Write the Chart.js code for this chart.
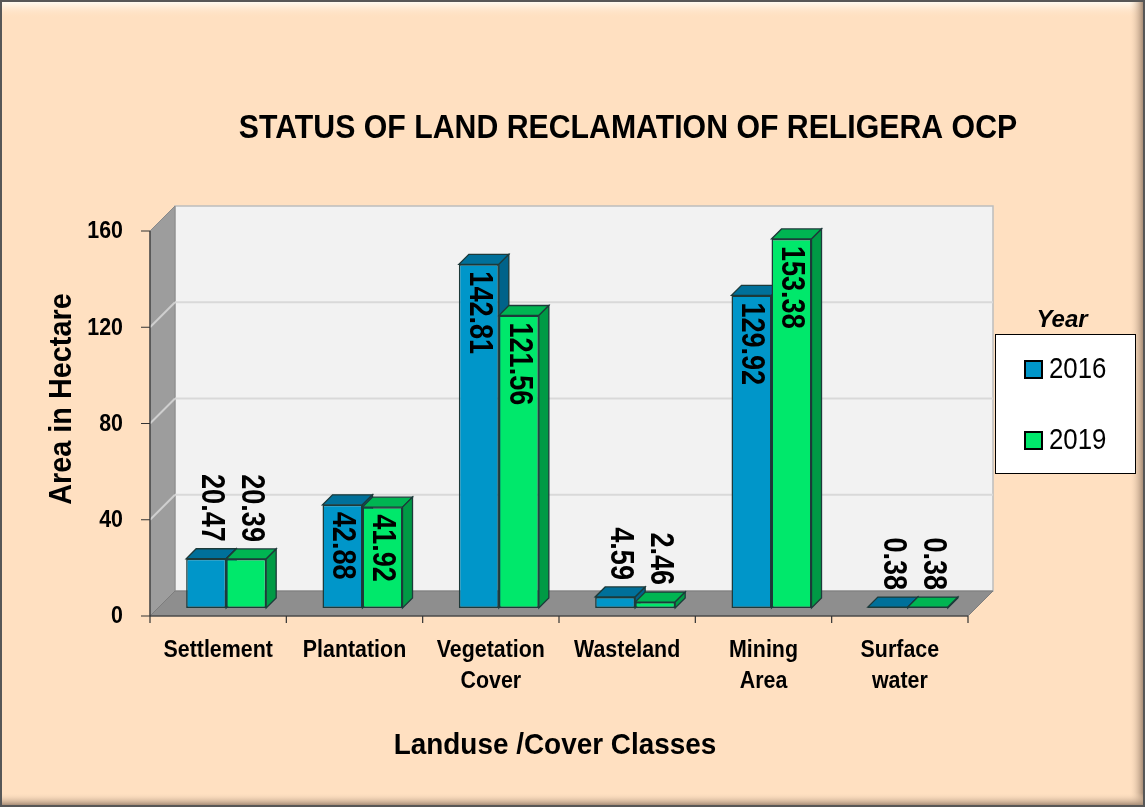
<!DOCTYPE html>
<html>
<head>
<meta charset="utf-8">
<title>Status of Land Reclamation of Religera OCP</title>
<script src="https://cdn.jsdelivr.net/npm/chart.js@4.4.1/dist/chart.umd.min.js"></script>
<style>
  html, body { margin: 0; padding: 0; background: #ffe0c1; }
  canvas { display: block; }
</style>
</head>
<body>
<canvas id="landChart" width="1145" height="807"></canvas>
<script>
const categories = ['Settlement', 'Plantation', ['Vegetation', 'Cover'], 'Wasteland', ['Mining', 'Area'], ['Surface', 'water']];
const years = ['2016', '2019'];
const area2016 = [20.47, 42.88, 142.81, 4.59, 129.92, 0.38];
const area2019 = [20.39, 41.92, 121.56, 2.46, 153.38, 0.38];
const yTicks = [0, 40, 80, 120, 160];

const FONT = '"Liberation Sans", Arial, sans-serif';
const DEPTH = 25;      // depth of the 3D box (walls / floor)
const BAR_DEPTH = 10;  // depth of each bar
const BAR_SHIFT = 8;   // bars sit a bit behind the front edge

const barColors = [
    { front: '#0096c9', top: '#00709a', side: '#00638a' },
    { front: '#00e86b', top: '#00b552', side: '#009a45' }
];

function drawText(ctx, str, x, y, size, opts = {}) {
    ctx.save();
    ctx.translate(x, y);
    if (opts.rotate) ctx.rotate(opts.rotate);
    ctx.scale(opts.sx || 1, 1);
    ctx.font = (opts.style || 'bold') + ' ' + size + 'px ' + FONT;
    ctx.fillStyle = opts.color || '#000';
    ctx.textAlign = opts.align || 'center';
    ctx.textBaseline = opts.baseline || 'alphabetic';
    ctx.fillText(str, 0, 0);
    ctx.restore();
}

function poly(ctx, pts, fill, stroke, lw) {
    ctx.beginPath();
    ctx.moveTo(pts[0][0], pts[0][1]);
    for (let i = 1; i < pts.length; i++) ctx.lineTo(pts[i][0], pts[i][1]);
    ctx.closePath();
    if (fill) { ctx.fillStyle = fill; ctx.fill(); }
    if (stroke) { ctx.strokeStyle = stroke; ctx.lineWidth = lw || 1; ctx.stroke(); }
}

// frame, walls, floor, axes and all the text around the plot
const boxPlugin = {
    id: 'box3d',
    beforeDraw(chart) {
        const { ctx, chartArea: a, scales } = chart;
        const W = chart.width, H = chart.height;
        const yS = scales.y, xS = scales.x;

        // background with a soft bevel
        ctx.save();
        ctx.fillStyle = '#ffe0c1';
        ctx.fillRect(0, 0, W, H);
        let g = ctx.createLinearGradient(0, 2, 0, 18);
        g.addColorStop(0, '#fffaf0');
        g.addColorStop(1, 'rgba(255,224,193,0)');
        ctx.fillStyle = g;
        ctx.fillRect(2, 2, W - 4, 16);
        g = ctx.createLinearGradient(W - 16, 0, W - 2, 0);
        g.addColorStop(0, 'rgba(255,224,193,0)');
        g.addColorStop(1, '#a88e78');
        ctx.fillStyle = g;
        ctx.fillRect(W - 16, 2, 14, H - 4);
        g = ctx.createLinearGradient(0, H - 14, 0, H - 2);
        g.addColorStop(0, 'rgba(255,224,193,0)');
        g.addColorStop(1, '#a88e78');
        ctx.fillStyle = g;
        ctx.fillRect(2, H - 14, W - 4, 12);
        ctx.strokeStyle = '#575757';
        ctx.lineWidth = 2;
        ctx.strokeRect(1, 1, W - 2, H - 2);

        const x0 = a.left, x1 = a.right;
        const yTop = yS.getPixelForValue(160), yBot = yS.getPixelForValue(0);

        // back wall
        poly(ctx, [[x0 + DEPTH, yTop - DEPTH], [x1 + DEPTH, yTop - DEPTH], [x1 + DEPTH, yBot - DEPTH], [x0 + DEPTH, yBot - DEPTH]], '#f2f2f2', '#bdbdbd', 1.5);
        // left wall
        poly(ctx, [[x0, yTop], [x0 + DEPTH, yTop - DEPTH], [x0 + DEPTH, yBot - DEPTH], [x0, yBot]], '#9d9d9d', '#8a8a8a', 1);
        // floor
        poly(ctx, [[x0, yBot], [x0 + DEPTH, yBot - DEPTH], [x1 + DEPTH, yBot - DEPTH], [x1, yBot]], '#8e8e8e', '#7d7d7d', 1);

        // gridlines
        yTicks.forEach(v => {
            if (v === 0 || v === 160) return;
            const py = yS.getPixelForValue(v);
            ctx.strokeStyle = '#d9d9d9';
            ctx.lineWidth = 2;
            ctx.beginPath();
            ctx.moveTo(x0 + DEPTH, py - DEPTH);
            ctx.lineTo(x1 + DEPTH, py - DEPTH);
            ctx.stroke();
            ctx.strokeStyle = '#cfcfcf';
            ctx.beginPath();
            ctx.moveTo(x0, py);
            ctx.lineTo(x0 + DEPTH, py - DEPTH);
            ctx.stroke();
        });

        // axis lines and ticks
        ctx.strokeStyle = '#333';
        ctx.lineWidth = 1.2;
        ctx.beginPath();
        ctx.moveTo(x0, yTop);
        ctx.lineTo(x0, yBot);
        ctx.lineTo(x1, yBot);
        yTicks.forEach(v => {
            const py = yS.getPixelForValue(v);
            ctx.moveTo(x0 - 9, py);
            ctx.lineTo(x0, py);
        });
        const step = (x1 - x0) / categories.length;
        for (let i = 0; i <= categories.length; i++) {
            ctx.moveTo(x0 + i * step, yBot);
            ctx.lineTo(x0 + i * step, yBot + 7);
        }
        ctx.stroke();

        // tick labels
        yTicks.forEach(v => {
            drawText(ctx, String(v), x0 - 27, yS.getPixelForValue(v) + 1, 23, { align: 'right', baseline: 'middle', sx: 0.93 });
        });
        categories.forEach((c, i) => {
            const lines = Array.isArray(c) ? c : [c];
            const px = xS.getPixelForValue(i);
            lines.forEach((l, k) => drawText(ctx, l, px, yBot + 41 + k * 31, 23, { sx: 0.93 }));
        });

        // titles
        drawText(ctx, 'STATUS OF LAND RECLAMATION OF RELIGERA OCP', 628, 138, 34, { sx: 0.89 });
        drawText(ctx, 'Area in Hectare', 71, 399, 31, { rotate: -Math.PI / 2, sx: 0.93 });
        drawText(ctx, 'Landuse /Cover Classes', 555, 754, 30, { sx: 0.93 });

        // legend
        drawText(ctx, 'Year', 1062, 327, 24, { style: 'italic bold' });
        ctx.fillStyle = '#ffffff';
        ctx.fillRect(995, 334, 140, 139);
        ctx.strokeStyle = '#000';
        ctx.lineWidth = 1;
        ctx.strokeRect(995.5, 334.5, 140, 139);
        years.forEach((yr, k) => {
            const cy = 369 + k * 71;
            ctx.fillStyle = barColors[k].front;
            ctx.fillRect(1025, cy - 8, 17, 17);
            ctx.strokeStyle = '#000';
            ctx.lineWidth = 2;
            ctx.strokeRect(1025, cy - 8, 17, 17);
            drawText(ctx, yr, 1049, cy + 1, 30, { style: 'normal', align: 'left', baseline: 'middle', sx: 0.86 });
        });
        ctx.restore();
    }
};

// top and side faces of the bars, value labels
const barsPlugin = {
    id: 'bars3d',
    beforeDatasetsDraw(chart) {
        const ctx = chart.ctx;
        ctx.save();
        ctx.translate(BAR_SHIFT, -BAR_SHIFT);
        const d = BAR_DEPTH;
        for (let i = 0; i < categories.length; i++) {
            for (let ds = 0; ds < 2; ds++) {
                const el = chart.getDatasetMeta(ds).data[i];
                const { x, y, base, width } = el.getProps(['x', 'y', 'base', 'width'], true);
                const l = x - width / 2, r = x + width / 2;
                poly(ctx, [[l, y], [r, y], [r + d, y - d], [l + d, y - d]], barColors[ds].top, '#1d3a3a', 1.3);
                poly(ctx, [[r, y], [r + d, y - d], [r + d, base - d], [r, base]], barColors[ds].side, '#1d3a3a', 1.3);
            }
        }
    },
    afterDatasetsDraw(chart) {
        const ctx = chart.ctx;
        const sx = 0.82, size = 33;
        chart.data.datasets.forEach((dataset, ds) => {
            chart.getDatasetMeta(ds).data.forEach((el, i) => {
                const { x, y, base } = el.getProps(['x', 'y', 'base'], true);
                const str = dataset.data[i].toFixed(2);
                ctx.font = 'bold ' + size + 'px ' + FONT;
                const len = ctx.measureText(str).width * sx;
                if (base - y > len + 14) {
                    drawText(ctx, str, x, y + 7, size, { rotate: Math.PI / 2, align: 'left', baseline: 'middle', sx: sx });
                } else {
                    drawText(ctx, str, x + BAR_DEPTH / 2, y - BAR_DEPTH - 7, size, { rotate: Math.PI / 2, align: 'right', baseline: 'middle', sx: sx });
                }
            });
        });
        ctx.restore();
    }
};

new Chart(document.getElementById('landChart'), {
    type: 'bar',
    data: {
        labels: categories,
        datasets: [
            {
                label: years[0],
                data: area2016,
                backgroundColor: barColors[0].front,
                borderColor: '#1d3a3a',
                borderWidth: 1.5,
                borderSkipped: false,
                categoryPercentage: 0.587,
                barPercentage: 1.0,
                clip: false
            },
            {
                label: years[1],
                data: area2019,
                backgroundColor: barColors[1].front,
                borderColor: '#1d3a3a',
                borderWidth: 1.5,
                borderSkipped: false,
                categoryPercentage: 0.587,
                barPercentage: 1.0,
                clip: false
            }
        ]
    },
    options: {
        responsive: false,
        animation: false,
        layout: { padding: { left: 150, right: 177, top: 231, bottom: 191 } },
        scales: {
            x: { display: false, offset: true },
            y: { display: false, min: 0, max: 160 }
        },
        plugins: {
            legend: { display: false },
            tooltip: { enabled: false }
        }
    },
    plugins: [boxPlugin, barsPlugin]
});
</script>
</body>
</html>
